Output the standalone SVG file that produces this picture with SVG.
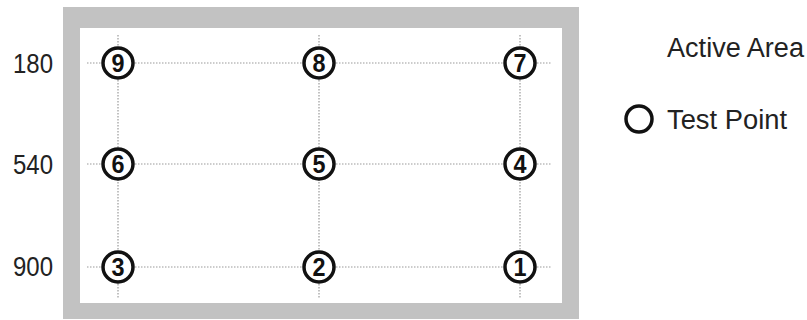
<svg xmlns="http://www.w3.org/2000/svg" width="807" height="320" viewBox="0 0 807 320">
<style>
.grid{stroke:#9a9a9a;stroke-width:1.2;stroke-dasharray:1.5 1.5;fill:none}
.pt circle{fill:#fff;stroke:#111;stroke-width:3.5}
.pt text{font-family:"Liberation Sans",Arial,sans-serif;font-size:25px;font-weight:bold;fill:#111;text-anchor:middle}
.lbl{font-family:"Liberation Sans",Arial,sans-serif;font-size:27px;fill:#222}
</style>
<rect width="807" height="320" fill="#fff"/>
<g id="frame">
<rect x="63" y="7" width="516" height="312" fill="#c2c2c2"/>
<rect x="80" y="28" width="482" height="275" fill="#fff"/>
</g>
<g id="connectors">
<line class="grid" x1="87" y1="63" x2="551" y2="63"/>
<line class="grid" x1="87" y1="164" x2="551" y2="164"/>
<line class="grid" x1="87" y1="267" x2="551" y2="267"/>
<line class="grid" x1="118" y1="35" x2="118" y2="298"/>
<line class="grid" x1="319" y1="35" x2="319" y2="298"/>
<line class="grid" x1="520" y1="35" x2="520" y2="298"/>
</g>
<g id="p9" class="pt"><circle cx="118" cy="63" r="15"/><text x="118" y="72" textLength="13" lengthAdjust="spacingAndGlyphs">9</text></g>
<g id="p8" class="pt"><circle cx="319" cy="63" r="15"/><text x="319" y="72" textLength="13" lengthAdjust="spacingAndGlyphs">8</text></g>
<g id="p7" class="pt"><circle cx="520" cy="63" r="15"/><text x="520" y="72" textLength="13" lengthAdjust="spacingAndGlyphs">7</text></g>
<g id="p6" class="pt"><circle cx="118" cy="164" r="15"/><text x="118" y="173" textLength="13" lengthAdjust="spacingAndGlyphs">6</text></g>
<g id="p5" class="pt"><circle cx="319" cy="164" r="15"/><text x="319" y="173" textLength="13" lengthAdjust="spacingAndGlyphs">5</text></g>
<g id="p4" class="pt"><circle cx="520" cy="164" r="15"/><text x="520" y="173" textLength="13" lengthAdjust="spacingAndGlyphs">4</text></g>
<g id="p3" class="pt"><circle cx="118" cy="267" r="15"/><text x="118" y="276" textLength="13" lengthAdjust="spacingAndGlyphs">3</text></g>
<g id="p2" class="pt"><circle cx="319" cy="267" r="15"/><text x="319" y="276" textLength="13" lengthAdjust="spacingAndGlyphs">2</text></g>
<g id="p1" class="pt"><circle cx="520" cy="267" r="15"/><text x="520" y="276" textLength="13" lengthAdjust="spacingAndGlyphs">1</text></g>
<g id="rowlabels">
<text class="lbl" x="13" y="73" textLength="40" lengthAdjust="spacingAndGlyphs">180</text>
<text class="lbl" x="13" y="174" textLength="40" lengthAdjust="spacingAndGlyphs">540</text>
<text class="lbl" x="13" y="276" textLength="40" lengthAdjust="spacingAndGlyphs">900</text>
</g>
<g id="legend">
<text class="lbl" x="667" y="57" font-size="28" textLength="137" lengthAdjust="spacingAndGlyphs">Active Area</text>
<circle cx="639" cy="119" r="13" fill="none" stroke="#111" stroke-width="3.5"/>
<text class="lbl" x="667" y="129" font-size="29" textLength="120" lengthAdjust="spacingAndGlyphs">Test Point</text>
</g>
</svg>
